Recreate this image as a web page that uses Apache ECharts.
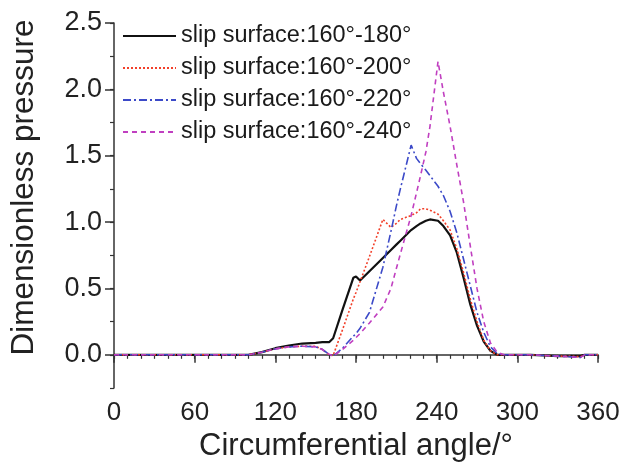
<!DOCTYPE html>
<html><head><meta charset="utf-8">
<script src="https://cdn.jsdelivr.net/npm/echarts@6/dist/echarts.min.js"></script>
<style>html,body{margin:0;padding:0;background:#fff}#c{width:625px;height:473px}</style>
</head><body><div id="c"></div>
<script>
const angles = [0,20,40,60,80,100,110,120,130,140,150,155,160,163,170,178,180,183,190,200,206,210,213,221,225,228,232,235,241,245,250,255,260,265,270,275,280,285,290,300,310,320,330,340,347,350,360];
const s180 = [0,0,0,0,0,0,0.02,0.05,0.07,0.085,0.09,0.095,0.095,0.125,0.34,0.58,0.59,0.56,0.63,0.73,0.79,0.83,0.86,0.94,0.97,0.99,1.01,1.02,1.01,0.97,0.9,0.77,0.58,0.38,0.22,0.1,0.03,0,0,0,0,-0.005,-0.01,-0.01,-0.01,0,0];
const s200 = [0,0,0,0,0,0,0.02,0.045,0.06,0.065,0.065,0.04,0.0,-0.005,0.19,0.42,0.47,0.55,0.74,1.02,0.96,0.99,1.02,1.05,1.07,1.1,1.1,1.09,1.06,1.01,0.94,0.8,0.62,0.42,0.25,0.11,0.03,0,0,0,0,-0.005,-0.01,-0.01,-0.015,0,0];
const s220 = [0,0,0,0,0,0,0.02,0.045,0.06,0.065,0.06,0.04,0.005,-0.01,0.05,0.14,0.16,0.2,0.32,0.66,0.93,1.12,1.25,1.58,1.48,1.44,1.39,1.35,1.27,1.2,1.08,0.92,0.72,0.52,0.32,0.17,0.06,0.01,0,0,0,-0.005,-0.01,-0.015,-0.02,0,0];
const s240 = [0,0,0,0,0,0,0.02,0.045,0.06,0.065,0.06,0.04,0.005,-0.01,0.04,0.11,0.13,0.16,0.24,0.36,0.5,0.65,0.76,1.05,1.22,1.35,1.53,1.72,2.21,1.98,1.72,1.43,1.15,0.82,0.5,0.25,0.09,0.02,0,0,0,-0.005,-0.01,-0.015,-0.02,0,0];
const seriesNames = ['slip surface:160°-180°','slip surface:160°-200°','slip surface:160°-220°','slip surface:160°-240°'];
const yMajorTicks = [0,0.5,1.0,1.5,2.0,2.5];

const pairs = v => angles.map((a,i)=>[a,v[i]]);
const font = 'Liberation Sans, Arial, sans-serif';
const axisColor = '#333';
const chart = echarts.init(document.getElementById('c'));
chart.setOption({
  animation:false,
  textStyle:{fontFamily:font},
  grid:{left:114,right:27,top:23,bottom:85},
  legend:{
    orient:'vertical', left:122, top:24, padding:0, itemWidth:53, itemHeight:14, itemGap:8,
    itemStyle:{opacity:0},
    textStyle:{fontFamily:font,fontSize:23.5,color:'#1a1a1a',lineHeight:22},
    data:seriesNames
  },
  xAxis:[{
    type:'value', min:0, max:360, interval:60,
    name:'Circumferential angle/°', nameLocation:'middle', nameGap:31,
    nameTextStyle:{fontFamily:font,fontSize:31,color:'#222'},
    axisLine:{show:true,lineStyle:{color:axisColor,width:1.5}},
    axisTick:{show:true,length:8,lineStyle:{color:axisColor,width:1.5}},
    axisLabel:{fontFamily:font,fontSize:26,color:'#222',margin:12,showMaxLabel:true,showMinLabel:true},
    splitLine:{show:false}
  },{
    type:'value', min:0, max:360, interval:10, position:'bottom',
    axisLine:{show:false},
    axisTick:{show:true,length:4,lineStyle:{color:axisColor,width:1.2}},
    axisLabel:{show:false}, splitLine:{show:false}
  }],
  yAxis:[{
    type:'value', min:-0.25, max:2.5, interval:0.25,
    name:'Dimensionless pressure', nameLocation:'middle', nameGap:74,
    nameTextStyle:{fontFamily:font,fontSize:31.5,color:'#222',padding:[0,0,0,36]},
    axisLine:{show:true,lineStyle:{color:axisColor,width:1.5}},
    axisTick:{show:true,length:9,customValues:yMajorTicks,lineStyle:{color:axisColor,width:1.5}},
    axisLabel:{fontFamily:font,fontSize:27,color:'#222',margin:12,customValues:yMajorTicks,formatter:v=>v.toFixed(1)},
    splitLine:{show:false}
  },{
    type:'value', min:-0.25, max:2.5, interval:0.25, position:'left',
    axisLine:{show:false},
    axisTick:{show:true,length:4,lineStyle:{color:axisColor,width:1.2}},
    axisLabel:{show:false}, splitLine:{show:false}
  }],
  series:[
    {name:seriesNames[0],type:'line',data:pairs(s180),symbol:'none',lineStyle:{color:'#111',width:2.2,type:'solid'},itemStyle:{color:'#111'}},
    {name:seriesNames[1],type:'line',data:pairs(s200),symbol:'none',lineStyle:{color:'#f2402a',width:1.6,type:[2,2]},itemStyle:{color:'#f2402a'}},
    {name:seriesNames[2],type:'line',data:pairs(s220),symbol:'none',lineStyle:{color:'#3c4ac8',width:1.6,type:[8,3,2,3]},itemStyle:{color:'#3c4ac8'}},
    {name:seriesNames[3],type:'line',data:pairs(s240),symbol:'none',lineStyle:{color:'#c03fc0',width:1.6,type:[5,4]},itemStyle:{color:'#c03fc0'}}
  ]
});
</script></body></html>
